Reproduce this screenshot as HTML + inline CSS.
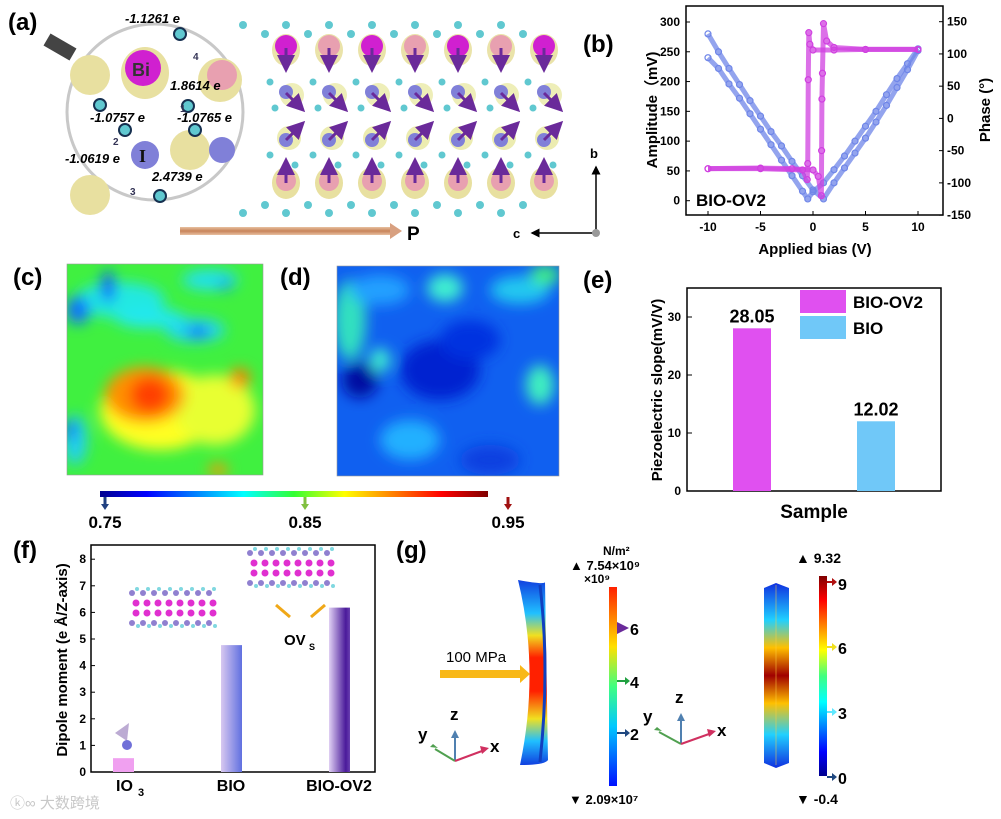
<!DOCTYPE html>
<html><head><meta charset="utf-8"><style>
body{margin:0;background:#fff;width:1001px;height:819px;overflow:hidden;font-family:"Liberation Sans",Arial,sans-serif}
svg{position:absolute;left:0;top:0}
</style></head><body>
<svg id="s" width="1001" height="819" viewBox="0 0 1001 819" font-family="Liberation Sans, Arial, sans-serif" font-weight="bold">
<defs>
<filter id="blur8"><feGaussianBlur stdDeviation="7"/></filter>
<filter id="blur5"><feGaussianBlur stdDeviation="5"/></filter>
<linearGradient id="jet" x1="0" x2="1" y1="0" y2="0">
<stop offset="0" stop-color="#00008f"/><stop offset="0.12" stop-color="#0000ff"/><stop offset="0.37" stop-color="#00ffff"/><stop offset="0.5" stop-color="#33ff33"/><stop offset="0.63" stop-color="#ffff00"/><stop offset="0.88" stop-color="#ff0000"/><stop offset="1" stop-color="#7f0000"/></linearGradient>
<linearGradient id="jetv" x1="0" x2="0" y1="1" y2="0">
<stop offset="0" stop-color="#0010ff"/><stop offset="0.3" stop-color="#00c8ff"/><stop offset="0.5" stop-color="#40ff80"/><stop offset="0.7" stop-color="#ffe000"/><stop offset="1" stop-color="#ff2000"/></linearGradient>
<linearGradient id="jetv2" x1="0" x2="0" y1="1" y2="0">
<stop offset="0" stop-color="#00008f"/><stop offset="0.12" stop-color="#0000ff"/><stop offset="0.37" stop-color="#00ffff"/><stop offset="0.5" stop-color="#40ff80"/><stop offset="0.63" stop-color="#ffff00"/><stop offset="0.88" stop-color="#ff0000"/><stop offset="1" stop-color="#7f0000"/></linearGradient>
<linearGradient id="beam1" x1="0" x2="0" y1="0" y2="1">
<stop offset="0" stop-color="#1040e0"/><stop offset="0.18" stop-color="#20c0ff"/><stop offset="0.3" stop-color="#f0e020"/><stop offset="0.42" stop-color="#ff2000"/><stop offset="0.6" stop-color="#ff2000"/><stop offset="0.75" stop-color="#f0e020"/><stop offset="0.87" stop-color="#20c0ff"/><stop offset="1" stop-color="#1040e0"/></linearGradient>
<linearGradient id="beam2" x1="0" x2="0" y1="0" y2="1">
<stop offset="0" stop-color="#1030e0"/><stop offset="0.2" stop-color="#20d0ff"/><stop offset="0.35" stop-color="#ffc000"/><stop offset="0.5" stop-color="#a00000"/><stop offset="0.65" stop-color="#ffc000"/><stop offset="0.82" stop-color="#20d0ff"/><stop offset="1" stop-color="#1030e0"/></linearGradient>
<linearGradient id="barB" x1="0" x2="1"><stop offset="0" stop-color="#d8c8f0"/><stop offset="1" stop-color="#6070e0"/></linearGradient>
<linearGradient id="barO" x1="0" x2="1"><stop offset="0" stop-color="#e0d0f4"/><stop offset="0.8" stop-color="#4a1a9a"/><stop offset="1" stop-color="#6a40b0"/></linearGradient>
<linearGradient id="parrow" x1="0" x2="0" y1="0" y2="1"><stop offset="0" stop-color="#e8c0a0"/><stop offset="0.5" stop-color="#c8845a"/><stop offset="1" stop-color="#e8c0a0"/></linearGradient>
<marker id="ah" markerWidth="6" markerHeight="6" refX="5" refY="3" orient="auto"><path d="M0,0L6,3L0,6z" fill="#6a2a9a"/></marker>
<marker id="ahk" markerWidth="6" markerHeight="6" refX="5" refY="3" orient="auto"><path d="M0,0L6,3L0,6z" fill="#000"/></marker>
</defs>

<text x="8" y="30" font-size="24">(a)</text>
<text x="583" y="52" font-size="24">(b)</text>
<text x="13" y="285" font-size="24">(c)</text>
<text x="280" y="285" font-size="24">(d)</text>
<text x="583" y="288" font-size="24">(e)</text>
<text x="13" y="558" font-size="24">(f)</text>
<text x="396" y="558" font-size="24">(g)</text>

<g id="crystal"></g>
<g id="panelB"></g>

<g>
<clipPath id="cc"><rect x="67" y="264" width="196" height="211"/></clipPath>
<g clip-path="url(#cc)">
<rect x="67" y="264" width="196" height="211" fill="#40f040"/>
<g filter="url(#blur8)">
<ellipse cx="120" cy="300" rx="45" ry="18" fill="#20e8e0"/>
<ellipse cx="108" cy="287" rx="7" ry="16" fill="#1050ff"/>
<ellipse cx="78" cy="310" rx="12" ry="14" fill="#1070ff"/>
<ellipse cx="150" cy="318" rx="35" ry="10" fill="#20e8f0"/>
<ellipse cx="195" cy="330" rx="30" ry="12" fill="#20d8f0"/>
<ellipse cx="198" cy="332" rx="12" ry="5" fill="#1030ff"/>
<ellipse cx="210" cy="280" rx="28" ry="10" fill="#20e0f0"/>
<ellipse cx="225" cy="285" rx="6" ry="5" fill="#1080ff"/>
<ellipse cx="75" cy="440" rx="12" ry="25" fill="#20d0f0"/>
<ellipse cx="70" cy="430" rx="6" ry="10" fill="#1060ff"/>
<ellipse cx="160" cy="410" rx="60" ry="40" fill="#ffff20"/>
<ellipse cx="215" cy="410" rx="40" ry="35" fill="#e8ff30"/>
<ellipse cx="145" cy="395" rx="40" ry="28" fill="#ff9000"/>
<ellipse cx="150" cy="395" rx="20" ry="18" fill="#ff4000"/>
<ellipse cx="240" cy="378" rx="10" ry="10" fill="#ff8000"/>
<ellipse cx="218" cy="470" rx="10" ry="6" fill="#ff9000"/>
</g></g>
<rect x="67" y="264" width="196" height="211" fill="none" stroke="#999" stroke-width="0.6"/>
</g>
<g>
<clipPath id="cd"><rect x="337" y="266" width="222" height="210"/></clipPath>
<g clip-path="url(#cd)">
<rect x="337" y="266" width="222" height="210" fill="#1060f0"/>
<g filter="url(#blur8)">
<ellipse cx="350" cy="320" rx="16" ry="40" fill="#30e0c0"/>
<ellipse cx="380" cy="290" rx="30" ry="15" fill="#20a0ff"/>
<ellipse cx="445" cy="288" rx="18" ry="14" fill="#40f0d0"/>
<ellipse cx="520" cy="290" rx="30" ry="14" fill="#20c8f0"/>
<ellipse cx="545" cy="275" rx="15" ry="10" fill="#40f080"/>
<ellipse cx="380" cy="360" rx="10" ry="12" fill="#40f0d0"/>
<ellipse cx="540" cy="385" rx="14" ry="20" fill="#40f0c0"/>
<ellipse cx="360" cy="380" rx="18" ry="18" fill="#0010a0"/>
<ellipse cx="440" cy="370" rx="40" ry="30" fill="#0020d0"/>
<ellipse cx="470" cy="340" rx="30" ry="20" fill="#0030e0"/>
<ellipse cx="410" cy="440" rx="30" ry="20" fill="#20b0ff"/>
<ellipse cx="490" cy="460" rx="30" ry="15" fill="#1040e0"/>
</g></g>
<rect x="337" y="266" width="222" height="210" fill="none" stroke="#999" stroke-width="0.6"/>
</g>
<g>
<rect x="100" y="491" width="388" height="6" fill="url(#jet)"/>
<path d="M105,497v8" stroke="#204080" stroke-width="3"/><path d="M101,504h8l-4,6z" fill="#204080"/>
<path d="M305,497v8" stroke="#80c040" stroke-width="3"/><path d="M301,504h8l-4,6z" fill="#80c040"/>
<path d="M508,497v8" stroke="#a01010" stroke-width="3"/><path d="M504,504h8l-4,6z" fill="#a01010"/>
<text x="105" y="528" font-size="17" text-anchor="middle">0.75</text>
<text x="305" y="528" font-size="17" text-anchor="middle">0.85</text>
<text x="508" y="528" font-size="17" text-anchor="middle">0.95</text>
</g>

<g id="panelE"></g>
<g id="panelF"></g>

<g>
<text x="603" y="555" font-size="12">N/m²</text>
<text x="570" y="570" font-size="13">▲ 7.54×10⁹</text>
<text x="584" y="583" font-size="12">×10⁹</text>
<rect x="609" y="587" width="8" height="199" fill="url(#jetv)"/>
<path d="M617,628h10" stroke="#b01010" stroke-width="2" marker-end="url(#ah)"/><text x="630" y="635" font-size="16">6</text>
<path d="M617,681h10" stroke="#20a040" stroke-width="2"/><path d="M625,677l5,4l-5,4z" fill="#20a040"/><text x="630" y="688" font-size="16">4</text>
<path d="M617,733h10" stroke="#204880" stroke-width="2"/><path d="M625,729l5,4l-5,4z" fill="#204880"/><text x="630" y="740" font-size="16">2</text>
<text x="569" y="804" font-size="13">▼ 2.09×10⁷</text>
<path d="M518,580 Q545,585 545,582 L548,760 Q545,765 520,765 Q540,670 518,580z" fill="url(#beam1)"/>
<path d="M540,585 Q550,670 540,762" stroke="#1040c0" stroke-width="3" fill="none"/>
<text x="446" y="662" font-size="15" font-weight="normal">100 MPa</text>
<rect x="440" y="670" width="82" height="8" fill="#f8b818"/><path d="M520,665l10,9l-10,9z" fill="#f8b818"/>
<g>
<path d="M455,761v-25" stroke="#5080b0" stroke-width="2"/><path d="M451,738l4,-8l4,8z" fill="#5080b0"/>
<path d="M455,761l-20,-12" stroke="#50a050" stroke-width="2"/><path d="M433,744l-3,3l8,1z" fill="#50a050"/>
<path d="M455,761l27,-10" stroke="#d03060" stroke-width="2"/><path d="M480,746l9,2l-7,6z" fill="#d03060"/>
<text x="450" y="720" font-size="17">z</text>
<text x="418" y="740" font-size="17">y</text>
<text x="490" y="752" font-size="17">x</text></g>
<g>
<path d="M681,744v-25" stroke="#5080b0" stroke-width="2"/><path d="M677,721l4,-8l4,8z" fill="#5080b0"/>
<path d="M681,744l-22,-12" stroke="#50a050" stroke-width="2"/><path d="M657,727l-3,3l8,1z" fill="#50a050"/>
<path d="M681,744l28,-10" stroke="#d03060" stroke-width="2"/><path d="M707,729l9,2l-7,6z" fill="#d03060"/>
<text x="675" y="703" font-size="17">z</text>
<text x="643" y="722" font-size="17">y</text>
<text x="717" y="736" font-size="17">x</text></g>
<path d="M764,588l12,-5l13,5v175l-13,5l-12,-5z" fill="url(#beam2)"/>
<path d="M776,585v180" stroke="#ffd040" stroke-width="1" opacity="0.5"/>
<text x="796" y="563" font-size="14">▲ 9.32</text>
<rect x="819" y="576" width="8" height="200" fill="url(#jetv2)"/>
<path d="M827,582h7" stroke="#b01010" stroke-width="2"/><path d="M832,578l5,4l-5,4z" fill="#b01010"/><text x="838" y="590" font-size="16">9</text>
<path d="M827,647h7" stroke="#f0e020" stroke-width="2"/><path d="M832,643l5,4l-5,4z" fill="#f0e020"/><text x="838" y="654" font-size="16">6</text>
<path d="M827,712h7" stroke="#60e8ff" stroke-width="2"/><path d="M832,708l5,4l-5,4z" fill="#60e8ff"/><text x="838" y="719" font-size="16">3</text>
<path d="M827,777h7" stroke="#204880" stroke-width="2"/><path d="M832,773l5,4l-5,4z" fill="#204880"/><text x="838" y="784" font-size="16">0</text>
<text x="796" y="804" font-size="14">▼ -0.4</text>
</g>
<text x="10" y="808" font-size="15" fill="#c8c8c8" font-weight="normal" font-family="Liberation Sans, Noto Sans CJK SC, sans-serif">ⓚ∞ 大数跨境</text>
</svg>
<script>
const NS="http://www.w3.org/2000/svg";
function mk(p,tag,a,txt){const e=document.createElementNS(NS,tag);for(const k in a)e.setAttribute(k,a[k]);if(txt!==undefined)e.textContent=txt;p.appendChild(e);return e;}

// ===== panel (b) data =====
const biasA=[-10,-9,-8,-7,-6,-5,-4,-3,-2,-1,-0.5,0,1,2,3,4,5,6,7,8,9,10];
const ampA=[240,222,196,172,146,120,94,68,42,16,3,15,30,52,75,100,125,150,178,205,230,255];
const biasB=[-10,-9,-8,-7,-6,-5,-4,-3,-2,-1,0,1,2,3,4,5,6,7,8,9,10];
const ampB=[280,250,222,195,168,142,116,92,66,42,18,3,30,55,80,105,132,160,190,220,252];
const biasP1=[-10,-5,-2,0,0.5,0.8,0.82,0.85,0.9,1,1.3,2,5,10];
const phaseP1=[-78,-77,-78,-80,-90,-120,-50,30,70,147,120,110,107,107];
const biasP2=[10,5,2,0,-0.3,-0.4,-0.45,-0.5,-0.55,-1,-5,-10];
const phaseP2=[107,107,106,106,115,133,60,-70,-95,-80,-78,-78];
const xTicksB=[-10,-5,0,5,10];
const ampTicks=[0,50,100,150,200,250,300];
const phaseTicks=[-150,-100,-50,0,50,100,150];

const bx=v=>813+v*10.5;
const ampY=v=>200.7-v*0.5957;
const phY=v=>118.4-v*0.6447;
(function(){
 const g=document.getElementById('panelB');
 const frame=mk(g,'rect',{x:686,y:6,width:257,height:209,fill:'none',stroke:'#000','stroke-width':1.5});
 
 
 xTicksB.forEach(v=>{mk(g,'line',{x1:bx(v),x2:bx(v),y1:215,y2:211,stroke:'#000'});
  const t=mk(g,'text',{x:bx(v),y:231,'font-size':12,'text-anchor':'middle'},v);
  
  });
 ampTicks.forEach(v=>{mk(g,'line',{x1:686,x2:690,y1:ampY(v),y2:ampY(v),stroke:'#000'});
  const t=mk(g,'text',{x:680,y:ampY(v)+4,'font-size':12,'text-anchor':'end'},v);
  
  });
 phaseTicks.forEach(v=>{mk(g,'line',{x1:943,x2:939,y1:phY(v),y2:phY(v),stroke:'#000'});
  const t=mk(g,'text',{x:947,y:phY(v)+4,'font-size':12},v);
  
  });
 function series(xs,ys,fy,col,name){
  const pts=xs.map((x,i)=>bx(x)+','+fy(ys[i])).join(' ');
  const pl=mk(g,'polyline',{points:pts,fill:'none',stroke:col,'stroke-width':5,'stroke-opacity':0.75,'stroke-linejoin':'round'});
  
  
  xs.forEach((x,i)=>mk(g,'circle',{cx:bx(x),cy:fy(ys[i]),r:3,fill:'none',stroke:col,'stroke-width':1.2}));
 }
 series(biasA,ampA,ampY,'#6f86e8','amplitude-branch-a');
 series(biasB,ampB,ampY,'#6f86e8','amplitude-branch-b');
 series(biasP1,phaseP1,phY,'#d040e0','phase-branch-forward');
 series(biasP2,phaseP2,phY,'#d040e0','phase-branch-backward');
 const lab=mk(g,'text',{x:696,y:206,'font-size':17},'BIO-OV2');
 
 
 const xl=mk(g,'text',{x:815,y:254,'font-size':15,'text-anchor':'middle'},'Applied bias (V)');
 
 
 const yl=mk(g,'text',{x:0,y:0,'font-size':15,'text-anchor':'middle',transform:'translate(657,110) rotate(-90)'},'Amplitude（mV)');
 
 
 const yr=mk(g,'text',{x:0,y:0,'font-size':15,'text-anchor':'middle',transform:'translate(990,110) rotate(-90)'},'Phase (°)');
 
 
})();

// ===== panel (e) data =====
const eCats=['BIO-OV2','BIO'];
const eVals=[28.05,12.02];
const eLabels=['28.05','12.02'];
const eTicks=[0,10,20,30];
(function(){
 const g=document.getElementById('panelE');
 const ey=v=>491-v*5.8;
 const ex=[733,857], ew=38, cols=['#e050f0','#70c8f8'];
 const fr=mk(g,'rect',{x:687,y:288,width:254,height:203,fill:'none',stroke:'#000','stroke-width':1.5});
 
 
 eTicks.forEach(v=>{mk(g,'line',{x1:687,x2:692,y1:ey(v),y2:ey(v),stroke:'#000'});
  const t=mk(g,'text',{x:681,y:ey(v)+4,'font-size':12,'text-anchor':'end'},v);
  
  });
 eVals.forEach((v,i)=>{
  const r=mk(g,'rect',{x:ex[i],y:ey(v),width:ew,height:491-ey(v),fill:cols[i]});
  
  
  const t=mk(g,'text',{x:ex[i]+ew/2,y:ey(v)-6,'font-size':18,'text-anchor':'middle'},eLabels[i]);
  
  
  const lr=mk(g,'rect',{x:800,y:290+i*26,width:46,height:23,fill:cols[i]});
  
  
  const lt=mk(g,'text',{x:853,y:308+i*26,'font-size':17},eCats[i]);
  
  
 });
 const xt=mk(g,'text',{x:814,y:518,'font-size':19,'text-anchor':'middle'},'Sample');
 
 
 const yt=mk(g,'text',{x:0,y:0,'font-size':15,'text-anchor':'middle',transform:'translate(662,390) rotate(-90)'},'Piezoelectric slope(mV/V)');
 
 
})();

// ===== panel (f) data =====
const fCats=['IO3','BIO','BIO-OV2'];
const fVals=[0.52,4.77,6.18];
const fTicks=[0,1,2,3,4,5,6,7,8];
(function(){
 const g=document.getElementById('panelF');
 const fy=v=>772-v*26.6;
 const fx=[113,221,329], fw=21, fills=['#f0a0f0','url(#barB)','url(#barO)'];
 function layer(x0,y0,n,dx){for(let i=0;i<n;i++){const x=x0+i*dx;
   mk(g,'circle',{cx:x,cy:y0,r:3,fill:'#9080d0'});mk(g,'circle',{cx:x+5,cy:y0-4,r:2,fill:'#80d8e0'});
   mk(g,'circle',{cx:x+4,cy:y0+10,r:3.5,fill:'#e030d0'});mk(g,'circle',{cx:x+4,cy:y0+20,r:3.5,fill:'#e030d0'});
   mk(g,'circle',{cx:x,cy:y0+30,r:3,fill:'#9080d0'});mk(g,'circle',{cx:x+6,cy:y0+33,r:2,fill:'#80d8e0'});}}
 layer(132,593,8,11); layer(250,553,8,11);
 mk(g,'path',{d:'M115,733l14,-10l-2,18z',fill:'#a088c0',opacity:0.7});
 mk(g,'circle',{cx:127,cy:745,r:5,fill:'#7070d8'});
 const fr=mk(g,'rect',{x:91,y:545,width:284,height:227,fill:'none',stroke:'#000','stroke-width':1.5});
 
 
 fTicks.forEach(v=>{mk(g,'line',{x1:91,x2:95,y1:fy(v),y2:fy(v),stroke:'#000'});
  const t=mk(g,'text',{x:86,y:fy(v)+4,'font-size':12,'text-anchor':'end'},v);
  
  });
 fVals.forEach((v,i)=>{
  const r=mk(g,'rect',{x:fx[i],y:fy(v),width:fw,height:772-fy(v),fill:fills[i]});
  
  
 });
 const l0=mk(g,'text',{x:116,y:791,'font-size':16},'IO');
 
 
 mk(g,'text',{x:138,y:796,'font-size':11},'3');
 const l1=mk(g,'text',{x:231,y:791,'font-size':16,'text-anchor':'middle'},'BIO');
 
 
 const l2=mk(g,'text',{x:339,y:791,'font-size':16,'text-anchor':'middle'},'BIO-OV2');
 
 
 const ov=mk(g,'text',{x:284,y:645,'font-size':15},'OV');
 
 
 mk(g,'text',{x:309,y:650,'font-size':9},'S');
 mk(g,'path',{d:'M276,605l14,12',stroke:'#f0a818','stroke-width':3});
 mk(g,'path',{d:'M325,605l-14,12',stroke:'#f0a818','stroke-width':3});
 const yt=mk(g,'text',{x:0,y:0,'font-size':15,'text-anchor':'middle',transform:'translate(67,660) rotate(-90)'},'Dipole moment (e Å/Z-axis)');
 
 
})();

// ===== panel (a) crystal illustration =====
(function(){
 const g=document.getElementById('crystal');
 for(let i=0;i<7;i++){const x=265+i*43;
  mk(g,'circle',{cx:x-22,cy:25,r:4,fill:'#60c8d0'});mk(g,'circle',{cx:x,cy:34,r:4,fill:'#60c8d0'});
  mk(g,'ellipse',{cx:x+21,cy:50,rx:14,ry:16,fill:'#e8e0a0',opacity:0.9});
  mk(g,'circle',{cx:x+21,cy:46,r:11,fill:i%2?'#e8a0b0':'#d020d0'});
  mk(g,'ellipse',{cx:x+21,cy:183,rx:14,ry:16,fill:'#e8e0a0'});
  mk(g,'circle',{cx:x+21,cy:181,r:10,fill:'#e8a0b0'});
  mk(g,'circle',{cx:x-22,cy:213,r:4,fill:'#60c8d0'});mk(g,'circle',{cx:x,cy:205,r:4,fill:'#60c8d0'});
  mk(g,'ellipse',{cx:x+27,cy:95,rx:12,ry:12,fill:'#ececb0',opacity:0.9});
  mk(g,'circle',{cx:x+21,cy:92,r:7,fill:'#8080d8'});
  mk(g,'ellipse',{cx:x+24,cy:138,rx:12,ry:12,fill:'#ececb0'});
  mk(g,'circle',{cx:x+21,cy:140,r:7,fill:'#8080d8'});
  mk(g,'circle',{cx:x+5,cy:82,r:3.5,fill:'#60c8d0'});mk(g,'circle',{cx:x+10,cy:108,r:3.5,fill:'#60c8d0'});
  mk(g,'circle',{cx:x+5,cy:155,r:3.5,fill:'#60c8d0'});mk(g,'circle',{cx:x+30,cy:165,r:3.5,fill:'#60c8d0'});
  mk(g,'line',{x1:x+21,y1:48,x2:x+21,y2:70,stroke:'#6a2a9a','stroke-width':3,'marker-end':'url(#ah)'});
  mk(g,'line',{x1:x+21,y1:93,x2:x+38,y2:110,stroke:'#6a2a9a','stroke-width':3,'marker-end':'url(#ah)'});
  mk(g,'line',{x1:x+21,y1:140,x2:x+38,y2:123,stroke:'#6a2a9a','stroke-width':3,'marker-end':'url(#ah)'});
  mk(g,'line',{x1:x+21,y1:183,x2:x+21,y2:160,stroke:'#6a2a9a','stroke-width':3,'marker-end':'url(#ah)'});
 }
 const m=mk(g,'circle',{cx:155,cy:112,r:88,fill:'#fff',stroke:'#c8c8c8','stroke-width':3});
 
 
 mk(g,'rect',{x:45,y:40,width:30,height:14,fill:'#444',transform:'rotate(30 60 47)'});
 [[90,75,20,'#e8e0a0'],[220,80,22,'#e8e0a0'],[190,150,20,'#e8e0a0'],[90,195,20,'#e8e0a0']].forEach(a=>mk(g,'circle',{cx:a[0],cy:a[1],r:a[2],fill:a[3]}));
 mk(g,'ellipse',{cx:145,cy:73,rx:24,ry:26,fill:'#e8e0a0'});
 mk(g,'circle',{cx:143,cy:68,r:18,fill:'#d020d0'});
 mk(g,'circle',{cx:222,cy:75,r:15,fill:'#e8a0b0'});
 mk(g,'circle',{cx:145,cy:155,r:14,fill:'#8080d8'});
 mk(g,'circle',{cx:222,cy:150,r:13,fill:'#8080d8'});
 [[180,34,'#60c8d0'],[188,106,'#60c8d0'],[125,130,'#60c8d0'],[160,196,'#60c8d0'],[100,105,'#60c8d0'],[195,130,'#60c8d0']].forEach(a=>mk(g,'circle',{cx:a[0],cy:a[1],r:6,fill:a[2],stroke:'#163050','stroke-width':2}));
 const texts=[[125,23,'-1.1261 e'],[170,90,'1.8614 e'],[90,122,'-1.0757 e'],[177,122,'-1.0765 e'],[65,163,'-1.0619 e'],[152,181,'2.4739 e']];
 texts.forEach(t=>{const e=mk(g,'text',{x:t[0],y:t[1],'font-size':13,'font-style':'italic'},t[2]);
  
  });
 mk(g,'text',{x:132,y:76,'font-size':18,fill:'#333'},'Bi');
 mk(g,'text',{x:139,y:162,'font-size':18,fill:'#111','font-family':'Liberation Serif, serif'},'I');
 mk(g,'text',{x:180,y:112,'font-size':10,fill:'#335'},'1');
 mk(g,'text',{x:113,y:145,'font-size':10,fill:'#335'},'2');
 mk(g,'text',{x:130,y:195,'font-size':10,fill:'#335'},'3');
 mk(g,'text',{x:193,y:60,'font-size':10,fill:'#335'},'4');
 const p=mk(g,'rect',{x:180,y:227,width:212,height:8,fill:'url(#parrow)'});
 
 
 mk(g,'path',{d:'M390,223l12,8l-12,8z',fill:'#d8a080'});
 mk(g,'text',{x:407,y:240,'font-size':19},'P');
 mk(g,'line',{x1:596,y1:233,x2:532,y2:233,stroke:'#000','stroke-width':1.5,'marker-end':'url(#ahk)'});
 mk(g,'line',{x1:596,y1:233,x2:596,y2:167,stroke:'#000','stroke-width':1.5,'marker-end':'url(#ahk)'});
 mk(g,'circle',{cx:596,cy:233,r:4,fill:'#999'});
 mk(g,'text',{x:513,y:238,'font-size':13},'c');
 mk(g,'text',{x:590,y:158,'font-size':13},'b');
})();
</script>
</body></html>
